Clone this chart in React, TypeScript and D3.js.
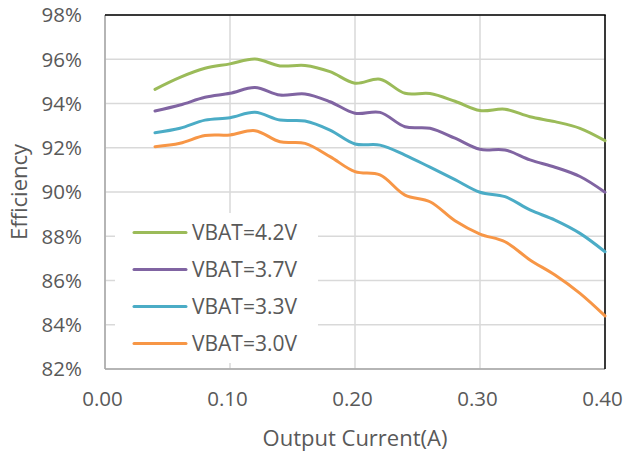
import React from "react";
import * as d3 from "d3";

const currents = [0.04, 0.06, 0.08, 0.10, 0.12, 0.14, 0.16, 0.18, 0.20, 0.22, 0.24, 0.26, 0.28, 0.30, 0.32, 0.34, 0.36, 0.38, 0.40];
const vbat42 = [94.64, 95.18, 95.59, 95.79, 96.01, 95.70, 95.72, 95.44, 94.92, 95.10, 94.46, 94.45, 94.10, 93.68, 93.74, 93.40, 93.18, 92.88, 92.32];
const vbat37 = [93.66, 93.93, 94.28, 94.46, 94.72, 94.38, 94.43, 94.08, 93.56, 93.60, 92.95, 92.88, 92.43, 91.93, 91.90, 91.45, 91.12, 90.70, 89.99];
const vbat33 = [92.68, 92.88, 93.25, 93.36, 93.60, 93.25, 93.21, 92.80, 92.17, 92.12, 91.67, 91.12, 90.56, 89.99, 89.79, 89.19, 88.73, 88.13, 87.30];
const vbat30 = [92.05, 92.20, 92.55, 92.58, 92.77, 92.27, 92.20, 91.60, 90.92, 90.77, 89.86, 89.56, 88.70, 88.10, 87.75, 86.93, 86.25, 85.42, 84.40];
const seriesNames = ["VBAT=4.2V", "VBAT=3.7V", "VBAT=3.3V", "VBAT=3.0V"];
const seriesColors = ["#9BBB59", "#8064A2", "#4BACC6", "#F79646"];
const xTicks = [0, 0.1, 0.2, 0.3, 0.4];
const yTicks = [82, 84, 86, 88, 90, 92, 94, 96, 98];

const W = 625, H = 456;
const L = 105, R = 605, T = 15, B = 369;
const FONT = "'Open Sans', sans-serif";
const TXT = "#595959";

export default function App() {
  const x = d3.scaleLinear().domain([0, 0.4]).range([L, R]);
  const y = d3.scaleLinear().domain([82, 98]).range([B, T]);
  const allSeries = [vbat42, vbat37, vbat33, vbat30];
  const line = d3.line<number>()
    .x((_, i) => x(currents[i]))
    .y((d) => y(d))
    .curve(d3.curveCatmullRom.alpha(0.5));

  const legX = 115, legY = 213, legW = 203, legH = 150;
  const legRows = [232.5, 269.5, 306.5, 343.5];

  return (
    <svg width={W} height={H} style={{ position: "absolute", left: 0, top: 0, background: "#fff" }}>
      <rect x={0} y={0} width={W} height={H} fill="#fff" />
      {yTicks.map((t) => (
        <line key={"gy" + t} x1={L} x2={R} y1={y(t)} y2={y(t)} stroke="#d9d9d9" strokeWidth={1.5} />
      ))}
      {xTicks.map((t) => (
        <line key={"gx" + t} x1={x(t)} x2={x(t)} y1={T} y2={B} stroke="#d9d9d9" strokeWidth={1.5} />
      ))}
      <line x1={L} x2={L} y1={T} y2={B} stroke="#a6a6a6" strokeWidth={1.5} />
      <line x1={L} x2={R} y1={B} y2={B} stroke="#a6a6a6" strokeWidth={1.5} />
      <line x1={L} x2={R + 0.75} y1={T} y2={T} stroke="#000" strokeWidth={1.5} />
      <line x1={R} x2={R} y1={T} y2={B} stroke="#000" strokeWidth={1.5} />
      {allSeries.map((s, i) => (
        <path key={"s" + i} d={line(s) || ""} fill="none" stroke={seriesColors[i]} strokeWidth={3} strokeLinecap="round" strokeLinejoin="round" />
      ))}
      <rect x={legX} y={legY} width={legW} height={legH} fill="#fff" />
      {seriesNames.map((n, i) => (
        <g key={"l" + i}>
          <line x1={134} x2={186} y1={legRows[i]} y2={legRows[i]} stroke={seriesColors[i]} strokeWidth={3} strokeLinecap="round" />
          <text x={192} y={legRows[i]} dy="0.36em" fontFamily={FONT} fontSize={21} fill={TXT}>{n}</text>
        </g>
      ))}
      {yTicks.map((t) => (
        <text key={"ty" + t} x={82} y={y(t)} dy="0.36em" textAnchor="end" fontFamily={FONT} fontSize={20.5} fill={TXT}>{t + "%"}</text>
      ))}
      {xTicks.map((t) => (
        <text key={"tx" + t} x={x(t) - 2.5} y={399} dy="0.36em" textAnchor="middle" fontFamily={FONT} fontSize={20.5} fill={TXT}>{t.toFixed(2)}</text>
      ))}
      <text x={(L + R) / 2} y={438} dy="0.36em" textAnchor="middle" fontFamily={FONT} fontSize={22} fill={TXT}>Output Current(A)</text>
      <text transform={`translate(19,${(T + B) / 2}) rotate(-90)`} dy="0.36em" textAnchor="middle" fontFamily={FONT} fontSize={22} fill={TXT}>Efficiency</text>
    </svg>
  );
}
